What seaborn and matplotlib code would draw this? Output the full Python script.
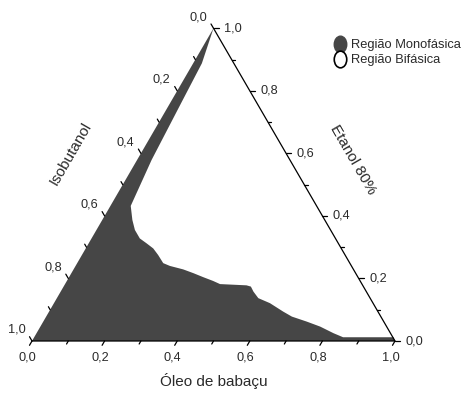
import numpy as np
import matplotlib
matplotlib.use("Agg")
import matplotlib.pyplot as plt
import seaborn as sns
import pandas as pd
from matplotlib.path import Path
from matplotlib.transforms import Affine2D
from matplotlib.lines import Line2D

# single-phase region boundary (mass fractions)
# walked from the Óleo corner up the binodal curve, then back up the thin band
# along the isobutanol side to the ethanol corner
oleo = [1.000, 0.990, 0.925, 0.851, 0.818, 0.771, 0.726, 0.677, 0.645, 0.595,
        0.555, 0.531, 0.516, 0.502, 0.427, 0.403, 0.370, 0.336, 0.302, 0.260,
        0.237, 0.210, 0.186, 0.160, 0.133, 0.106, 0.083, 0.056, 0.047, 0.040,
        0.030, 0.024, 0.000]
etanol = [0.000, 0.012, 0.012, 0.012, 0.025, 0.046, 0.062, 0.078, 0.094, 0.121,
          0.137, 0.158, 0.174, 0.178, 0.182, 0.192, 0.204, 0.217, 0.229, 0.240,
          0.249, 0.275, 0.296, 0.312, 0.328, 0.355, 0.387, 0.432, 0.515, 0.579,
          0.770, 0.888, 1.000]

tick_vals = [0.0, 0.1, 0.2, 0.3, 0.4, 0.5, 0.6, 0.7, 0.8, 0.9, 1.0]
legend_labels = ["Região Monofásica", "Região Bifásica"]

FILL = "#464646"
H = np.sqrt(3) / 2
PX = 363.0  # pixels per unit along the base


def to_xy(o, e):
    o = np.asarray(o, float)
    e = np.asarray(e, float)
    return o + e / 2, e * H


sns.set_theme(style="white")
plt.rcParams["font.family"] = ["Liberation Sans", "DejaVu Sans"]
plt.rcParams["text.color"] = "#2a2a2a"

fig = plt.figure(figsize=(4.73, 3.96), dpi=100)
ax = fig.add_axes([0, 0, 1, 1])
ax.set_xlim(-32 / PX, (473 - 32) / PX)
ax.set_ylim(-55 / 361.1, 341 / 361.1)
ax.axis("off")

# region polygon: boundary + isobutanol corner
bx, by = to_xy(oleo + [0.0], etanol + [0.0])
ax.fill(bx, by, color=FILL, lw=0, zorder=1)

# triangle frame
tri = pd.DataFrame({"x": [0, 1, 0.5, 0], "y": [0, 0, H, 0]})
sns.lineplot(data=tri, x="x", y="y", sort=False, color="black", lw=0.9,
             ax=ax, zorder=3)
ax.set_xlabel("")
ax.set_ylabel("")

def fmt(v):
    return f"{v:.1f}".replace(".", ",")

tick_fs = 9.2
p2pt = 0.72
for i, v in enumerate(tick_vals):
    major = i % 2 == 0
    L = (5.0 if major else 3.5) / PX
    # bottom axis: Óleo de babaçu
    x0, y0 = to_xy(v, 0)
    ax.plot([x0, x0 - 0.5 * L], [y0, y0 - H * L], color="black", lw=0.9, zorder=3)
    # right axis: Etanol 80%
    x1, y1 = to_xy(1 - v, v)
    ax.plot([x1, x1 + L], [y1, y1], color="black", lw=0.9, zorder=3)
    # left axis: Isobutanol
    x2, y2 = to_xy(0, 1 - v)
    ax.plot([x2, x2 - 0.5 * L], [y2, y2 + H * L], color="black", lw=0.9, zorder=3)
    if major:
        ax.annotate(fmt(v), (x0, y0), xytext=(-4.5 * p2pt, -10.0 * p2pt),
                    textcoords="offset points", ha="center", va="top",
                    fontsize=tick_fs)
        ax.annotate(fmt(v), (x1, y1), xytext=(10.5 * p2pt, 0),
                    textcoords="offset points", ha="left", va="center",
                    fontsize=tick_fs)
        ax.annotate(fmt(v), (x2, y2), xytext=(-6.5 * p2pt, 5.0 * p2pt),
                    textcoords="offset points", ha="right", va="bottom",
                    fontsize=tick_fs)

# axis titles
ax.text(0.5, -40 / 361.1, "Óleo de babaçu", ha="center", va="center", fontsize=11)
ax.text((71 - 32) / PX, (341 - 154) / 361.1, "Isobutanol", rotation=60,
        ha="center", va="center", fontsize=11)
ax.text((353 - 32) / PX, (341 - 160) / 361.1, "Etanol 80%", rotation=-60,
        ha="center", va="center", fontsize=11)

# legend with slightly tall elliptical markers
ell = Path.unit_circle().transformed(Affine2D().scale(0.75, 1.0))
handles = [
    Line2D([], [], ls="none", marker=ell, ms=12, mfc=FILL, mec=FILL),
    Line2D([], [], ls="none", marker=ell, ms=12, mfc="white", mec="black", mew=1.2),
]
fig.legend(handles, legend_labels, loc="upper left",
           bbox_to_anchor=(335 / 473, 1 - 39 / 396), frameon=False,
           fontsize=9.3, handlelength=0.8, handletextpad=0.45,
           borderpad=0, borderaxespad=0, labelspacing=0.25)

fig.savefig("out.png", dpi=100)
